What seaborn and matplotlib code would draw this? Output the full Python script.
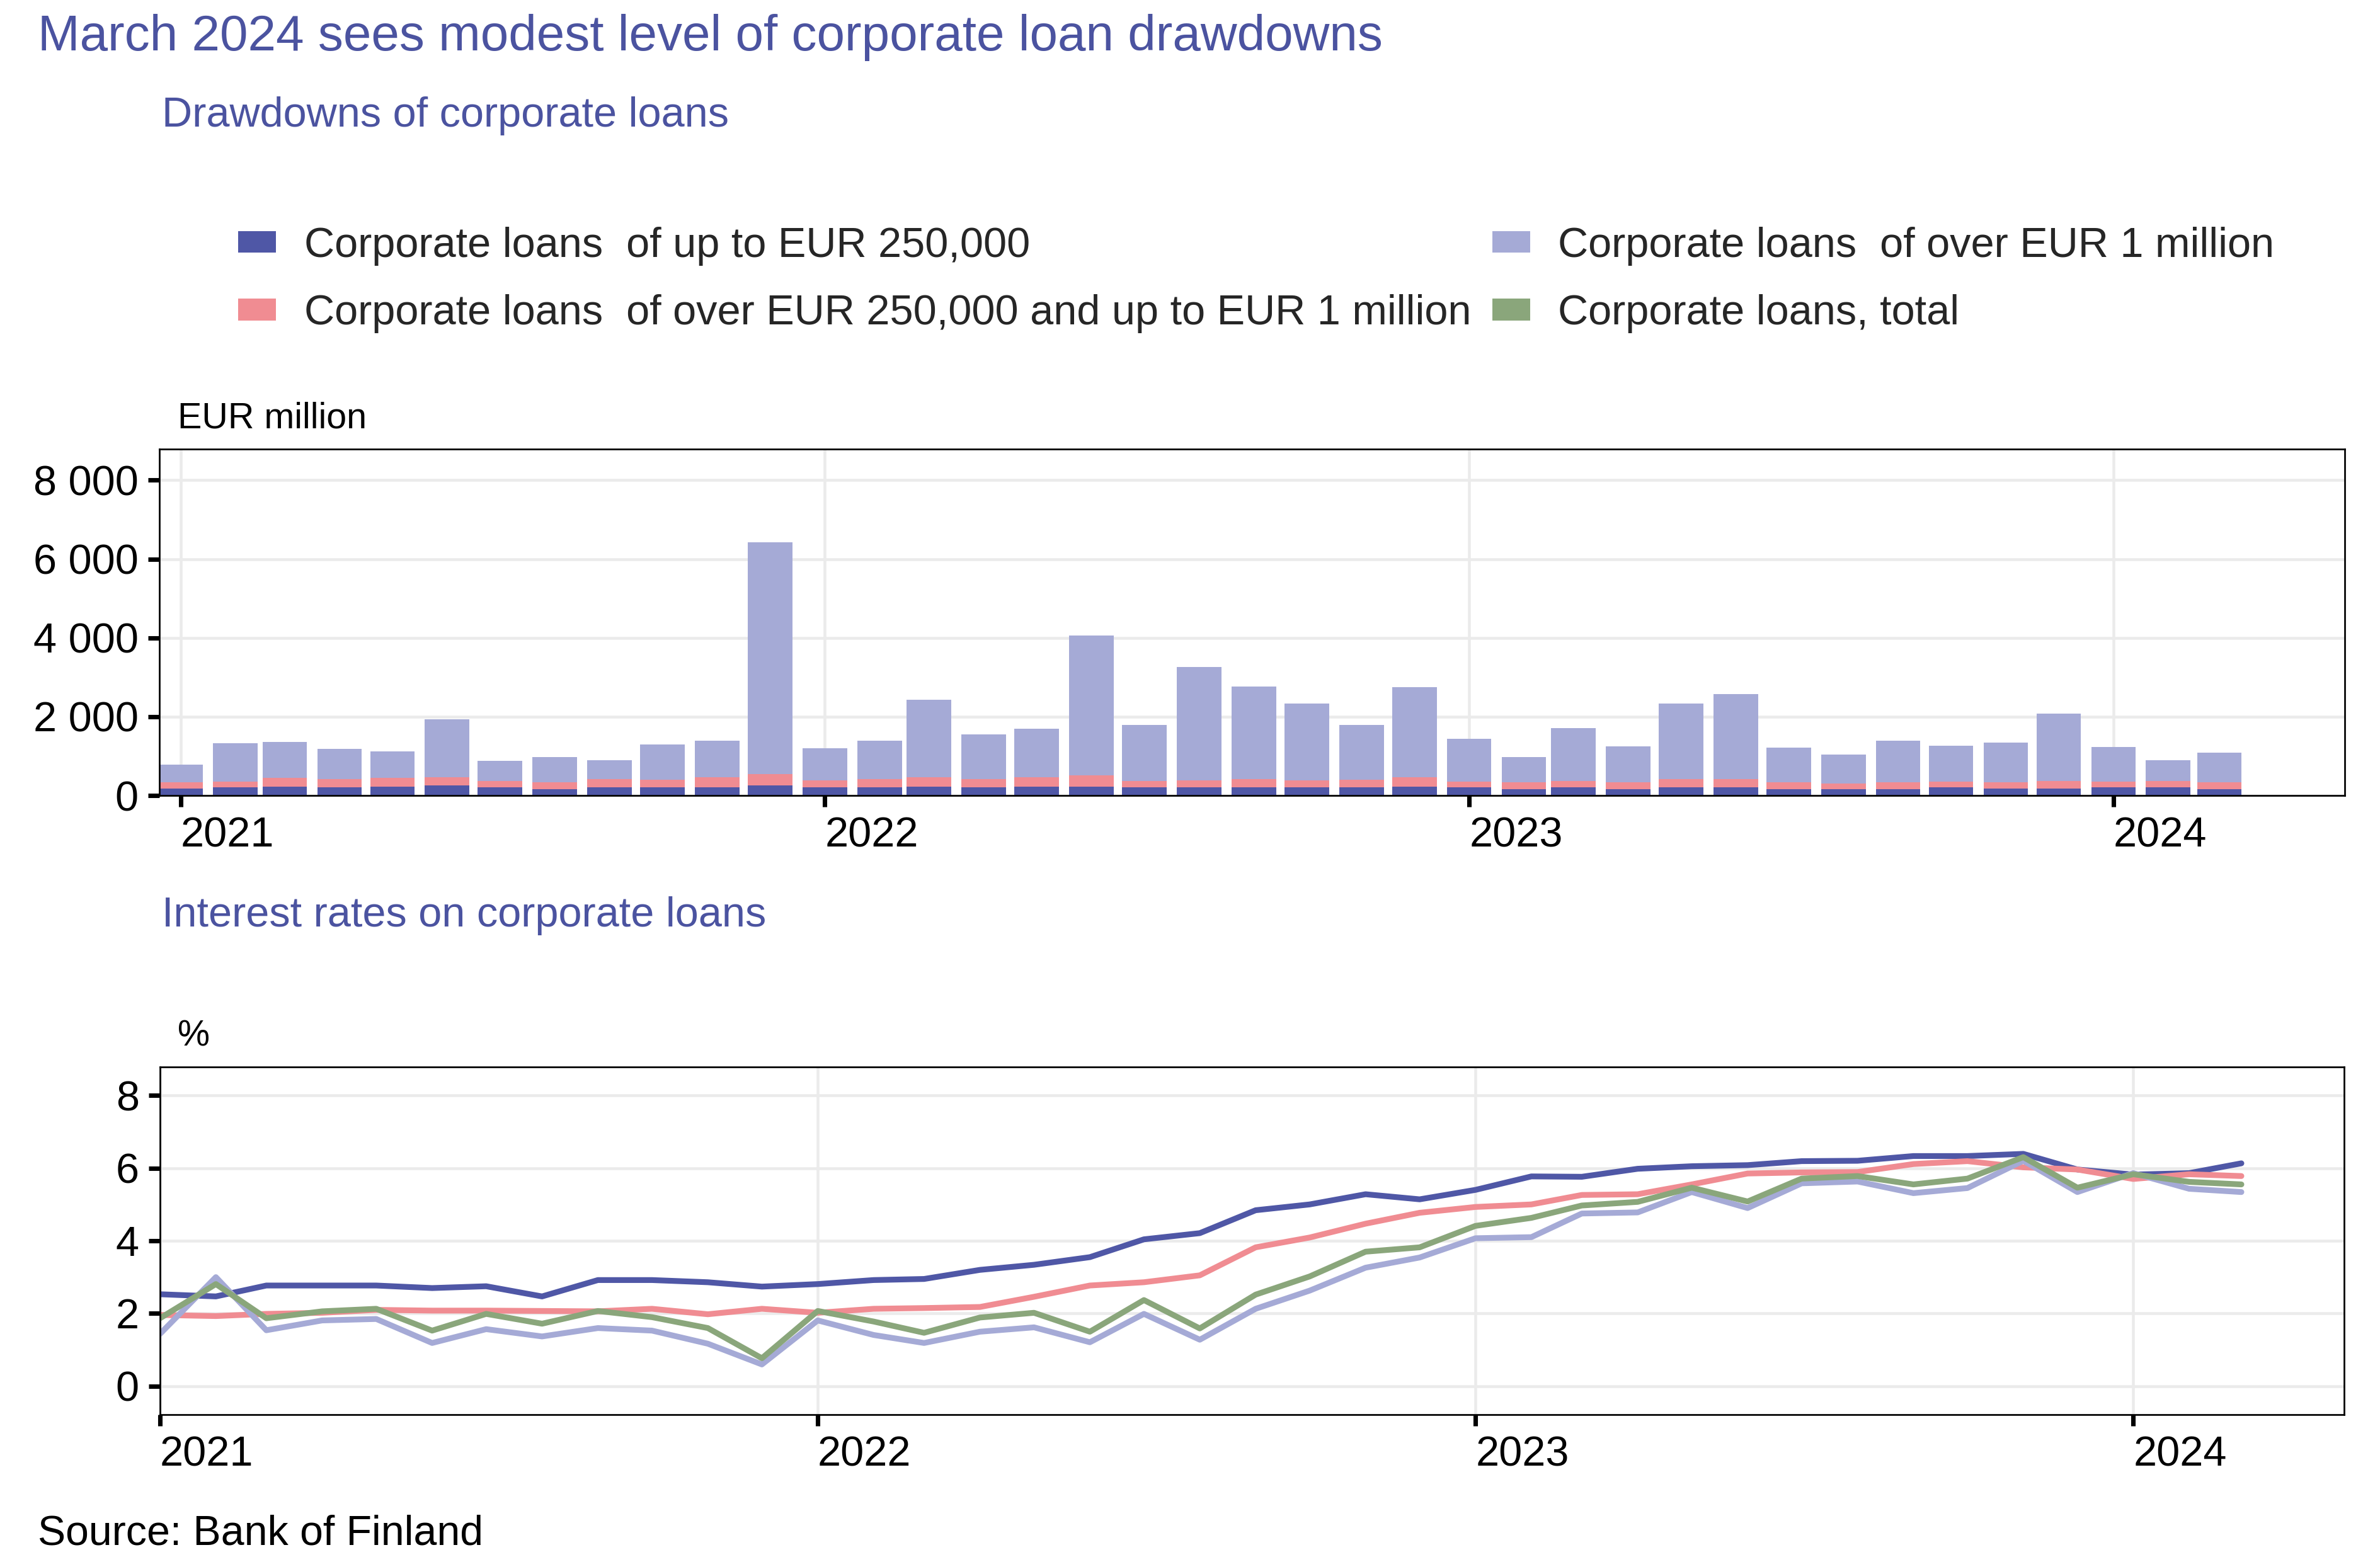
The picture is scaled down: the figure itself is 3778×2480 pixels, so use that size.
import matplotlib
matplotlib.use('Agg')
import pandas as pd
import seaborn as sns
import matplotlib.pyplot as plt
import matplotlib.dates as mdates
from matplotlib.patches import Patch
from matplotlib.ticker import FuncFormatter

# ---- data -------------------------------------------------------------
months = pd.date_range('2021-01-01', '2024-03-01', freq='MS')

# drawdowns of corporate loans, EUR million
drawdown_small = [180, 200, 230, 215, 230, 250, 200, 165, 215, 215, 215, 250,
                  200, 200, 230, 200, 230, 230, 200, 200, 215, 200, 200, 230,
                  200, 165, 200, 165, 215, 215, 165, 165, 165, 200, 180, 180,
                  200, 200, 165]
drawdown_mid = [160, 153, 214, 198, 214, 218, 171, 163, 198, 186, 241, 291,
                189, 213, 226, 213, 238, 275, 171, 189, 198, 189, 201, 238,
                153, 163, 171, 175, 198, 198, 163, 145, 163, 153, 160, 191,
                153, 171, 163]
drawdown_large = [444, 972, 912, 773, 675, 1465, 511, 651, 487, 894, 936, 5886,
                  809, 979, 1970, 1137, 1222, 3556, 1416, 2876, 2359, 1951, 1386, 2274,
                  1088, 651, 1337, 906, 1927, 2153, 888, 730, 1064, 912, 1004, 1702,
                  881, 529, 760]

# interest rates on corporate loans, %
rate_small = [2.53, 2.47, 2.77, 2.77, 2.77, 2.70, 2.75, 2.47, 2.92, 2.92, 2.86, 2.74,
              2.81, 2.92, 2.95, 3.20, 3.34, 3.55, 4.04, 4.21, 4.84, 5.00, 5.28, 5.14,
              5.40, 5.77, 5.76, 5.98, 6.05, 6.08, 6.19, 6.20, 6.33, 6.33, 6.39, 5.96,
              5.82, 5.86, 6.13]
rate_mid = [1.96, 1.93, 1.99, 2.02, 2.10, 2.08, 2.08, 2.07, 2.06, 2.13, 1.98, 2.13,
            2.02, 2.13, 2.15, 2.18, 2.46, 2.77, 2.86, 3.05, 3.82, 4.09, 4.47, 4.77,
            4.93, 5.00, 5.26, 5.28, 5.55, 5.85, 5.88, 5.89, 6.11, 6.19, 6.02, 5.96,
            5.70, 5.83, 5.78]
rate_large = [1.44, 3.00, 1.54, 1.81, 1.85, 1.19, 1.57, 1.37, 1.60, 1.53, 1.17, 0.60,
              1.81, 1.41, 1.19, 1.50, 1.62, 1.21, 1.99, 1.28, 2.13, 2.63, 3.26, 3.54,
              4.07, 4.10, 4.75, 4.78, 5.34, 4.90, 5.58, 5.63, 5.31, 5.45, 6.20, 5.34,
              5.86, 5.43, 5.34]
rate_total = [1.87, 2.81, 1.87, 2.06, 2.13, 1.53, 1.99, 1.72, 2.07, 1.90, 1.60, 0.77,
              2.07, 1.78, 1.47, 1.89, 2.02, 1.50, 2.37, 1.59, 2.52, 3.02, 3.70, 3.82,
              4.41, 4.63, 4.97, 5.07, 5.46, 5.08, 5.71, 5.78, 5.55, 5.71, 6.30, 5.46,
              5.83, 5.62, 5.55]

series_labels = [
    'Corporate loans  of up to EUR 250,000',
    'Corporate loans  of over EUR 250,000 and up to EUR 1 million',
    'Corporate loans  of over EUR 1 million',
    'Corporate loans, total',
]
series_colors = ['#4f57a6', '#f08c92', '#a5aad6', '#8aa67b']
year_ticks = ['2021', '2022', '2023', '2024']

title = 'March 2024 sees modest level of corporate loan drawdowns'
title_color = '#4b53a0'

# ---- style ------------------------------------------------------------
sns.set_theme(style='white')
plt.rcParams['font.family'] = ['Liberation Sans', 'DejaVu Sans']

W, H = 3779, 2480
fig = plt.figure(figsize=(W / 300, H / 300), dpi=300)


def px_axes(left, top, right, bottom):
    return fig.add_axes([left / W, 1 - bottom / H, (right - left) / W, (bottom - top) / H])


def style_axes(ax):
    for sp in ax.spines.values():
        sp.set_visible(True)
        sp.set_color('black')
        sp.set_linewidth(0.65)
    ax.grid(True, color='#ebebeb', linewidth=1.1)
    ax.set_axisbelow(True)
    ax.tick_params(axis='both', which='major', direction='out', length=4.3,
                   width=1.7, color='black', labelsize=16, pad=3.7,
                   bottom=True, left=True, labelcolor='black')
    ax.set_xlabel('')
    ax.set_ylabel('')


year_pos = pd.to_datetime([f'{y}-01-01' for y in year_ticks])

# ---- drawdowns (stacked bars) -----------------------------------------
bars = pd.DataFrame({
    'x': mdates.date2num(months),
    'small': drawdown_small,
    'mid': drawdown_mid,
    'large': drawdown_large,
})
bars['upto_mid'] = bars['small'] + bars['mid']
bars['upto_large'] = bars['upto_mid'] + bars['large']

ax1 = px_axes(253, 713, 3722, 1263)
for col, color in [('upto_large', series_colors[2]),
                   ('upto_mid', series_colors[1]),
                   ('small', series_colors[0])]:
    sns.barplot(data=bars, x='x', y=col, native_scale=True, width=0.9,
                color=color, saturation=1, errorbar=None, linewidth=0,
                edgecolor='none', ax=ax1)
style_axes(ax1)
ax1.set_xlim(mdates.date2num(pd.Timestamp('2020-12-20')),
             mdates.date2num(pd.Timestamp('2024-05-11')))
ax1.set_ylim(0, 8790)
ax1.set_yticks([0, 2000, 4000, 6000, 8000])
ax1.yaxis.set_major_formatter(FuncFormatter(lambda v, p: f'{v:,.0f}'.replace(',', ' ')))
ax1.set_xticks(mdates.date2num(year_pos))
ax1.set_xticklabels(year_ticks, ha='left')

# ---- interest rates (lines) -------------------------------------------
rates = pd.DataFrame({
    'month': list(months) * 4,
    'rate': rate_small + rate_mid + rate_large + rate_total,
    'series': [s for s in series_labels for _ in months],
})

ax2 = px_axes(254, 1694, 3721, 2246)
sns.lineplot(data=rates, x='month', y='rate', hue='series',
             hue_order=series_labels,
             palette=dict(zip(series_labels, series_colors)),
             linewidth=2.2, legend=False, ax=ax2)
style_axes(ax2)
ax2.set_xlim(pd.Timestamp('2021-01-01'), pd.Timestamp('2024-04-27'))
ax2.set_ylim(-0.78, 8.78)
ax2.set_yticks([0, 2, 4, 6, 8])
ax2.set_xticks(year_pos)
ax2.set_xticklabels(year_ticks, ha='left')

# ---- texts ------------------------------------------------------------
def ftext(x, y, s, **kw):
    fig.text(x / W, 1 - y / H, s, va='baseline', ha='left', **kw)


ftext(60, 80, title, fontsize=19.2, color=title_color)
ftext(257, 201, 'Drawdowns of corporate loans', fontsize=16, color=title_color)
ftext(282, 679, 'EUR million', fontsize=13.8, color='black')
ftext(257, 1471, 'Interest rates on corporate loans', fontsize=16, color=title_color)
ftext(282, 1660, '%', fontsize=13.8, color='black')
ftext(60, 2452, 'Source: Bank of Finland', fontsize=15.9, color='black')

handles = [Patch(facecolor=c, edgecolor='none') for c in series_colors]
fig.legend(handles, series_labels, ncol=2, loc='upper left',
           bbox_to_anchor=(378 / W, 1 - 360 / H), frameon=False,
           fontsize=16, handlelength=0.9, handleheight=0.42,
           handletextpad=0.67, columnspacing=0.5, borderpad=0,
           borderaxespad=0, labelspacing=0.68)

fig.savefig('out.png', dpi=300)
